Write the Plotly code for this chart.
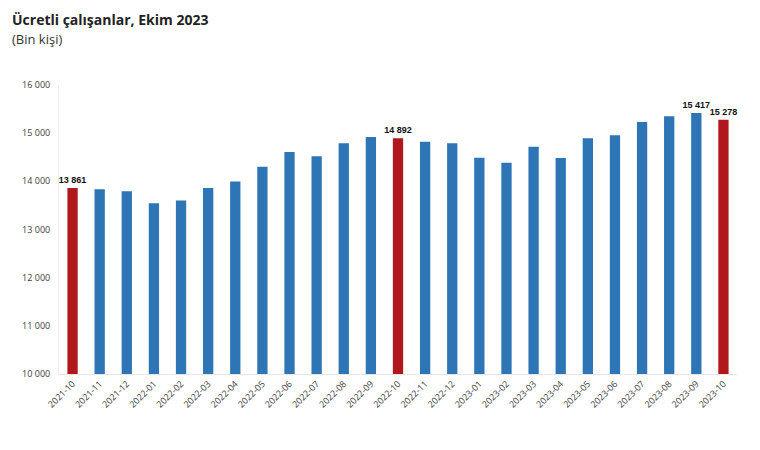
import plotly.graph_objects as go

categories = ["2021-10", "2021-11", "2021-12", "2022-01", "2022-02", "2022-03", "2022-04",
              "2022-05", "2022-06", "2022-07", "2022-08", "2022-09", "2022-10", "2022-11",
              "2022-12", "2023-01", "2023-02", "2023-03", "2023-04", "2023-05", "2023-06",
              "2023-07", "2023-08", "2023-09", "2023-10"]
values = [13861, 13836, 13795, 13546, 13600, 13863, 13994,
          14305, 14610, 14520, 14790, 14921, 14892, 14824,
          14790, 14492, 14388, 14720, 14486, 14894, 14956,
          15232, 15350, 15417, 15278]
labelled = ["2021-10", "2022-10", "2023-09", "2023-10"]
highlight = ["2021-10", "2022-10", "2023-10"]
y_ticks = [10000, 11000, 12000, 13000, 14000, 15000, 16000]
y_ticktext = ["10 000", "11 000", "12 000", "13 000", "14 000", "15 000", "16 000"]

def fmt(v):
    return f"{v:,}".replace(",", " ")

colors = ["#B0181D" if c in highlight else "#2E75B6" for c in categories]
texts = [fmt(v) if c in labelled else "" for c, v in zip(categories, values)]

fig = go.Figure(go.Bar(
    x=categories, y=values,
    marker=dict(color=colors, line=dict(width=0)),
    text=texts, textposition="outside", constraintext="none", cliponaxis=False,
    textfont=dict(family="Arial, Liberation Sans", size=9, color="#111111", weight="bold"),
))

fig.update_layout(
    width=760, height=450,
    margin=dict(l=51, r=31, t=77, b=84),
    paper_bgcolor="white", plot_bgcolor="white",
    bargap=0.62,
    showlegend=False,
    font=dict(family="Open Sans", color="#404040"),
    xaxis=dict(
        type="category", tickangle=-45, showgrid=False,
        tickfont=dict(size=9, color="#404040"),
        showline=True, linecolor="#E6E6E6", linewidth=1,
        ticks="",
    ),
    yaxis=dict(
        range=[10000, 16000], tickvals=y_ticks, ticktext=y_ticktext,
        showgrid=False, zeroline=False,
        showline=True, linecolor="#EEEEEE", linewidth=1,
        tickfont=dict(size=9, color="#404040"),
        ticks="outside", ticklen=6, tickcolor="rgba(0,0,0,0)",
    ),
    annotations=[
        dict(text="<b>Ücretli çalışanlar, Ekim 2023</b>", xref="paper", yref="paper",
             x=-0.072, y=1.2664, xanchor="left", yanchor="top", showarrow=False,
             font=dict(family="Open Sans", size=14, color="#222222")),
        dict(text="(Bin kişi)", xref="paper", yref="paper",
             x=-0.072, y=1.159, xanchor="left", yanchor="middle", showarrow=False,
             font=dict(family="Open Sans", size=13, color="#333333")),
    ],
)

fig.write_html("out.html")
